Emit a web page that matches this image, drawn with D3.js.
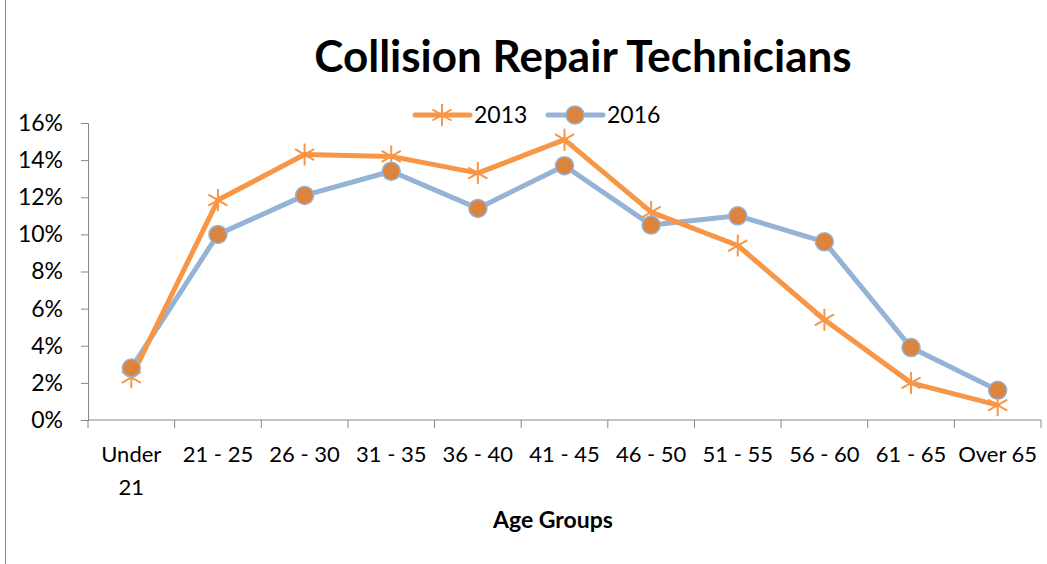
<!DOCTYPE html>
<html>
<head>
<meta charset="utf-8">
<script src="https://cdn.jsdelivr.net/npm/d3@7"></script>
<style>
  body { margin: 0; background: #fff; }
  text { font-family: Lato, "Open Sans", sans-serif; }
</style>
</head>
<body>
<svg id="chart" width="1047" height="564"></svg>
<script>
const ageGroups = ["Under 21", "21 - 25", "26 - 30", "31 - 35", "36 - 40", "41 - 45", "46 - 50", "51 - 55", "56 - 60", "61 - 65", "Over 65"]
const values2013 = [0.023, 0.1185, 0.143, 0.142, 0.133, 0.151, 0.112, 0.094, 0.054, 0.020, 0.008]
const values2016 = [0.028, 0.100, 0.121, 0.134, 0.114, 0.137, 0.105, 0.110, 0.096, 0.039, 0.016]
const yTicks = [0, 0.02, 0.04, 0.06, 0.08, 0.10, 0.12, 0.14, 0.16]

const orange = "#F79646"
const blue = "#95B3D7"
const dotFill = "#DB843D"
const axisGray = "#868686"

const svg = d3.select("#chart")

// frame line on the left
svg.append("line")
  .attr("x1", 5.5).attr("x2", 5.5)
  .attr("y1", 0).attr("y2", 564)
  .attr("stroke", "#8c8c8c").attr("stroke-width", 1)

const x = d3.scaleBand().domain(ageGroups).range([88, 1041])
const y = d3.scaleLinear().domain([0, 0.16]).range([420, 123])

// title
svg.append("text")
  .attr("x", 583).attr("y", 72)
  .attr("text-anchor", "middle")
  .style("font-size", "44px").style("font-weight", "bold")
  .text("Collision Repair Technicians")

// y axis
const yAxis = svg.append("g")
  .attr("transform", "translate(88,0)")
  .call(d3.axisLeft(y).tickValues(yTicks).tickFormat(d3.format(".0%")).tickSize(7).tickPadding(18))
yAxis.select(".domain").attr("stroke", axisGray)
yAxis.selectAll(".tick line").attr("stroke", axisGray)
yAxis.selectAll("text").style("font-size", "23px").style("font-family", "Lato, sans-serif").attr("fill", "#000")

// x axis, ticks at band edges
const xAxisG = svg.append("g").attr("transform", "translate(0,420)")
xAxisG.append("line")
  .attr("x1", 88).attr("x2", 1041).attr("stroke", axisGray)
const edges = ageGroups.map(d => x(d)).concat([x.range()[1]])
xAxisG.selectAll("line.tk").data(edges).enter().append("line")
  .attr("class", "tk")
  .attr("x1", d => d).attr("x2", d => d)
  .attr("y1", 0).attr("y2", 8)
  .attr("stroke", axisGray)

const labels = xAxisG.selectAll("text.lbl").data(ageGroups).enter().append("text")
  .attr("class", "lbl")
  .attr("text-anchor", "middle")
  .style("font-size", "22px")
labels.each(function (d) {
  const cx = x(d) + x.bandwidth() / 2
  const parts = d === "Under 21" ? ["Under", "21"] : [d]
  d3.select(this).selectAll("tspan").data(parts).enter().append("tspan")
    .attr("x", cx)
    .attr("y", (p, i) => 42 + i * 33)
    .text(p => p)
})

svg.append("text")
  .attr("x", 553).attr("y", 528)
  .attr("text-anchor", "middle")
  .style("font-size", "23px").style("font-weight", "bold")
  .text("Age Groups")

const cx = d => x(d) + x.bandwidth() / 2
const line = d3.line().x((d, i) => cx(ageGroups[i])).y(d => y(d))

// 2016 line
svg.append("path")
  .datum(values2016)
  .attr("d", line)
  .attr("fill", "none").attr("stroke", blue)
  .attr("stroke-width", 5).attr("stroke-linejoin", "round")

// 2013 line
svg.append("path")
  .datum(values2013)
  .attr("d", line)
  .attr("fill", "none").attr("stroke", orange)
  .attr("stroke-width", 5).attr("stroke-linejoin", "round")

const star = (px, py, r) => {
  let s = `M${px},${py - r}L${px},${py + r}`
  ;[30, 150].forEach(a => {
    const rad = a * Math.PI / 180
    const dx = Math.cos(rad) * r, dy = Math.sin(rad) * r
    s += `M${px - dx},${py - dy}L${px + dx},${py + dy}`
  })
  return s
}

// 2013 star markers
svg.selectAll("path.star").data(values2013).enter().append("path")
  .attr("class", "star")
  .attr("d", (d, i) => star(cx(ageGroups[i]), y(d), 11))
  .attr("stroke", orange).attr("stroke-width", 2).attr("fill", "none")

// 2016 circle markers
svg.selectAll("circle.dot").data(values2016).enter().append("circle")
  .attr("class", "dot")
  .attr("cx", (d, i) => cx(ageGroups[i]))
  .attr("cy", d => y(d))
  .attr("r", 9)
  .attr("fill", dotFill).attr("stroke", blue).attr("stroke-width", 1.5)

// legend
const legend = svg.append("g")
const lg = [
  { name: "2013", x0: 415, color: orange, type: "star" },
  { name: "2016", x0: 548, color: blue, type: "dot" }
]
lg.forEach(item => {
  legend.append("line")
    .attr("x1", item.x0).attr("x2", item.x0 + 55)
    .attr("y1", 115).attr("y2", 115)
    .attr("stroke", item.color).attr("stroke-width", 5).attr("stroke-linecap", "round")
  const mx = item.x0 + 27
  if (item.type === "star") {
    legend.append("path").attr("d", star(mx, 115, 11)).attr("stroke", orange).attr("stroke-width", 2)
  } else {
    legend.append("circle").attr("cx", mx).attr("cy", 115).attr("r", 9)
      .attr("fill", dotFill).attr("stroke", blue).attr("stroke-width", 1.5)
  }
  legend.append("text")
    .attr("x", item.x0 + 59).attr("y", 123)
    .style("font-size", "23px")
    .text(item.name)
})
</script>
</body>
</html>
